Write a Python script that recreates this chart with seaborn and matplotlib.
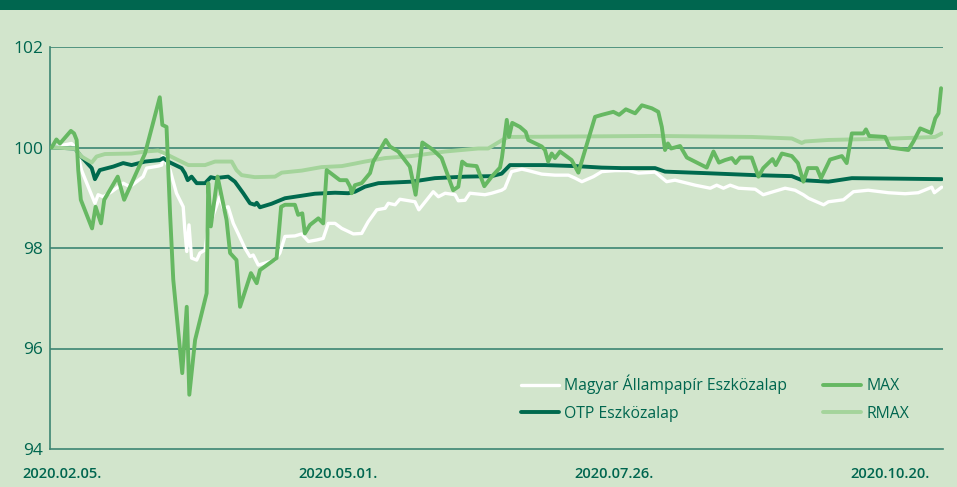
import pandas as pd
import seaborn as sns
import matplotlib
matplotlib.use("Agg")
import matplotlib.pyplot as plt
from matplotlib.patches import Rectangle

# Day offsets are counted from 2020.02.05.
start = pd.Timestamp("2020-02-05")

allam_days = [-3.2, 3.0, 4.6, 6.1, 8.2, 10.3, 11.3, 12.9, 15.5, 19.1, 21.2, 23.3, 25.3, 26.4,
              30.0, 31.1, 31.6, 32.6, 33.7, 35.7, 37.8, 38.3, 38.9, 39.6, 40.4, 42.0, 43.0,
              44.6, 45.6, 46.6, 47.9, 49.2, 50.3, 51.8, 53.4, 54.9, 57.0, 58.6, 59.6, 61.2,
              63.3, 66.4, 67.9, 69.5, 72.6, 74.7, 76.8, 79.4, 81.4, 83.0, 85.1, 87.2, 89.2,
              90.8, 93.4, 95.4, 98.1, 100.7, 101.7, 103.8, 105.3, 110.0, 111.2, 115.7, 117.3,
              119.4, 122.5, 123.5, 125.6, 127.1, 131.8, 133.9, 137.0, 138.0, 140.1, 143.3,
              145.3, 149.5, 153.6, 157.8, 159.9, 162.0, 165.6, 168.2, 172.3, 176.5, 179.6,
              184.8, 188.4, 191.0, 197.3, 202.0, 204.0, 206.1, 208.2, 210.8, 216.0, 218.5,
              221.6, 225.3, 228.4, 231.0, 232.6, 237.3, 238.8, 243.5, 246.6, 251.2, 257.5,
              262.7, 266.8, 271.0, 271.8, 274.1]
allam_vals = [100.0, 100.08, 99.98, 99.55, 99.22, 98.89, 99.06, 99.02, 99.12, 99.29, 99.22,
              99.32, 99.42, 99.59, 99.63, 99.65, 99.88, 99.69, 99.55, 99.09, 98.82, 98.36,
              97.93, 98.46, 97.8, 97.76, 97.9, 97.96, 98.43, 98.56, 98.79, 99.02, 98.79,
              98.82, 98.49, 98.29, 98.0, 97.83, 97.86, 97.66, 97.7, 97.76, 97.9, 98.23, 98.24,
              98.28, 98.13, 98.16, 98.19, 98.49, 98.49, 98.39, 98.33, 98.28, 98.29, 98.52,
              98.76, 98.79, 98.89, 98.86, 98.97, 98.92, 98.76, 99.12, 99.02, 99.09, 99.06,
              98.94, 98.95, 99.09, 99.06, 99.09, 99.15, 99.19, 99.52, 99.57, 99.54, 99.47,
              99.45, 99.45, 99.39, 99.32, 99.42, 99.52, 99.54, 99.54, 99.49, 99.51, 99.32,
              99.35, 99.25, 99.19, 99.25, 99.19, 99.25, 99.19, 99.17, 99.06, 99.12, 99.19,
              99.15, 99.06, 98.99, 98.86, 98.92, 98.96, 99.12, 99.15, 99.1, 99.08, 99.1,
              99.21, 99.1, 99.21]

otp_days = [-3.2, 4.1, 5.6, 9.3, 10.3, 11.8, 16.0, 19.1, 21.7, 25.9, 30.5, 31.6, 33.1, 37.3,
            38.3, 39.2, 40.4, 42.0, 44.6, 46.4, 47.7, 51.8, 53.9, 56.5, 58.6, 60.1, 60.7,
            61.7, 65.3, 69.5, 74.7, 78.8, 85.1, 89.2, 91.3, 94.4, 98.6, 109.0, 116.2, 125.6,
            133.9, 137.0, 139.6, 150.5, 159.9, 168.2, 174.4, 184.8, 187.9, 200.4, 215.9,
            227.4, 230.5, 238.8, 246.1, 274.1]
otp_vals = [100.0, 99.98, 99.85, 99.59, 99.37, 99.55, 99.62, 99.69, 99.65, 99.72, 99.75,
            99.79, 99.72, 99.59, 99.49, 99.35, 99.42, 99.29, 99.29, 99.41, 99.39, 99.42,
            99.32, 99.09, 98.89, 98.86, 98.9, 98.81, 98.88, 98.99, 99.04, 99.08, 99.1, 99.09,
            99.12, 99.22, 99.29, 99.32, 99.39, 99.42, 99.43, 99.48, 99.65, 99.65, 99.63,
            99.6, 99.59, 99.59, 99.52, 99.49, 99.45, 99.43, 99.35, 99.32, 99.39, 99.37]

max_days = [-3.2, -1.7, -0.6, 2.8, 3.8, 4.6, 5.1, 5.9, 9.4, 10.5, 12.2, 13.2, 17.4, 19.4,
            25.9, 30.5, 31.3, 32.6, 33.7, 34.7, 37.5, 38.9, 39.7, 41.5, 45.1, 45.6, 46.4,
            48.5, 51.3, 52.4, 54.4, 55.5, 58.9, 60.7, 61.7, 66.9, 68.3, 69.5, 72.6, 73.6,
            74.9, 75.7, 77.3, 79.9, 81.4, 82.5, 86.6, 88.7, 89.8, 90.3, 91.3, 93.4, 96.0,
            97.0, 100.9, 102.2, 104.8, 108.4, 110.2, 112.3, 115.7, 118.3, 121.9, 123.5,
            124.7, 126.1, 129.2, 131.6, 133.9, 136.5, 137.1, 137.7, 138.6, 139.3, 140.3,
            142.7, 144.5, 145.3, 149.5, 150.5, 151.5, 152.6, 153.6, 155.2, 158.8, 160.9,
            166.1, 168.2, 171.8, 173.6, 175.7, 178.6, 180.7, 183.8, 185.8, 186.9, 187.9,
            188.8, 189.8, 192.6, 194.7, 200.9, 203.0, 204.7, 206.6, 208.7, 209.9, 211.3,
            214.9, 217.0, 218.5, 221.4, 222.4, 224.3, 227.4, 229.3, 231.0, 232.4, 235.2,
            236.5, 239.3, 243.0, 244.5, 246.1, 249.7, 250.5, 251.5, 256.5, 258.0, 263.7,
            265.3, 267.4, 270.8, 272.1, 273.1, 273.9]
max_vals = [100.0, 100.16, 100.08, 100.33, 100.28, 100.15, 99.55, 98.96, 98.39, 98.82, 98.49,
            98.96, 99.42, 98.96, 99.88, 101.0, 100.45, 100.41, 98.69, 97.37, 95.51, 96.83,
            95.08, 96.17, 97.1, 99.29, 98.43, 99.42, 98.56, 97.9, 97.76, 96.83, 97.5, 97.3,
            97.56, 97.8, 98.82, 98.86, 98.86, 98.66, 98.69, 98.29, 98.46, 98.59, 98.49,
            99.55, 99.35, 99.35, 99.22, 99.09, 99.25, 99.29, 99.49, 99.72, 100.15, 100.02,
            99.92, 99.62, 99.06, 100.1, 99.95, 99.79, 99.15, 99.22, 99.72, 99.65, 99.63,
            99.23, 99.42, 99.6, 99.8, 100.1, 100.55, 100.21, 100.49, 100.41, 100.31, 100.15,
            100.02, 99.95, 99.72, 99.88, 99.79, 99.92, 99.75, 99.5, 100.61, 100.65, 100.71,
            100.65, 100.76, 100.68, 100.84, 100.78, 100.71, 100.41, 99.95, 100.08, 99.98,
            100.03, 99.8, 99.6, 99.92, 99.7, 99.75, 99.79, 99.69, 99.8, 99.8, 99.42, 99.59,
            99.77, 99.65, 99.88, 99.83, 99.69, 99.32, 99.59, 99.59, 99.39, 99.76, 99.83,
            99.69, 100.28, 100.28, 100.36, 100.23, 100.21, 100.0, 99.95, 100.12, 100.38,
            100.29, 100.58, 100.68, 101.18]

rmax_days = [-3.2, 4.1, 6.1, 9.3, 10.8, 13.4, 21.7, 25.9, 30.0, 32.1, 36.2, 39.4, 44.6, 47.7,
             52.9, 54.4, 56.0, 60.1, 66.4, 68.5, 74.7, 80.9, 87.2, 91.3, 94.4, 100.7, 109.0,
             119.4, 129.7, 132.8, 134.9, 138.0, 139.1, 184.8, 215.0, 227.4, 230.5, 231.5,
             238.8, 259.6, 272.0, 274.1]
rmax_vals = [100.0, 99.98, 99.82, 99.7, 99.82, 99.87, 99.88, 99.92, 99.94, 99.88, 99.75,
             99.65, 99.65, 99.72, 99.72, 99.55, 99.45, 99.41, 99.42, 99.5, 99.54, 99.61,
             99.63, 99.68, 99.72, 99.79, 99.83, 99.92, 99.98, 99.98, 100.06, 100.18, 100.21,
             100.23, 100.21, 100.18, 100.09, 100.12, 100.15, 100.18, 100.21, 100.28]

tick_labels = ["2020.02.05.", "2020.05.01.", "2020.07.26.", "2020.10.20."]
y_ticks = [94, 96, 98, 100, 102]

bg = "#d2e5cc"
teal = "#00664f"
grid_c = "#3d8572"

sns.set_theme(style="white")
plt.rcParams["font.family"] = ["Open Sans", "DejaVu Sans"]

fig = plt.figure(figsize=(9.57, 4.87), dpi=100, facecolor=bg)
fig.patches.append(Rectangle((0, 1 - 10 / 487), 1, 10 / 487, transform=fig.transFigure,
                             facecolor=teal, edgecolor="none", zorder=0))
ax = fig.add_axes([50 / 957, 1 - 449 / 487, 893 / 957, 402 / 487])
ax.set_facecolor(bg)

series = [
    ("Magyar Állampapír Eszközalap", allam_days, allam_vals, "#ffffff", 2.4, 2),
    ("OTP Eszközalap", otp_days, otp_vals, "#006a4e", 2.8, 3),
    ("RMAX", rmax_days, rmax_vals, "#a4d49b", 2.8, 4),
    ("MAX", max_days, max_vals, "#66b862", 2.8, 5),
]
for name, days, vals, col, lw, z in series:
    d = pd.DataFrame({"date": start + pd.to_timedelta(days, unit="D"), "value": vals})
    sns.lineplot(data=d, x="date", y="value", ax=ax, color=col, linewidth=lw,
                 label=name, zorder=z, estimator=None, sort=False)

ax.set_ylim(94, 102)
ax.set_yticks(y_ticks)
ax.set_xlim(start + pd.Timedelta(days=-3.7), start + pd.Timedelta(days=274.5))
ax.set_xticks(pd.to_datetime(tick_labels, format="%Y.%m.%d."))
ax.set_xticklabels(tick_labels)
ax.set_xlabel("")
ax.set_ylabel("")
for y in y_ticks[1:]:
    ax.axhline(y, color=grid_c, linewidth=1.2, zorder=1)
for s in ["top", "right"]:
    ax.spines[s].set_visible(False)
for s in ["left", "bottom"]:
    ax.spines[s].set_color(grid_c)
    ax.spines[s].set_linewidth(1.2)
ax.tick_params(axis="y", length=0, pad=5, labelsize=12.5, labelcolor=teal)
ax.tick_params(axis="x", length=0, pad=13, labelsize=10.5, labelcolor=teal)
for t in ax.get_xticklabels():
    t.set_fontweight("semibold")

handles, labels = ax.get_legend_handles_labels()
order = [labels.index(n) for n in ["Magyar Állampapír Eszközalap", "OTP Eszközalap", "MAX", "RMAX"]]
ax.legend([handles[i] for i in order], [labels[i] for i in order], ncol=2,
          loc="upper left", bbox_to_anchor=(521 / 957, 1 - 375 / 487),
          bbox_transform=fig.transFigure, frameon=False, fontsize=11.3,
          labelcolor=teal, handlelength=2.42, handletextpad=0.33, columnspacing=2.3,
          labelspacing=0.72, borderpad=0, borderaxespad=0)

fig.savefig("out.png", dpi=100, facecolor=bg)
